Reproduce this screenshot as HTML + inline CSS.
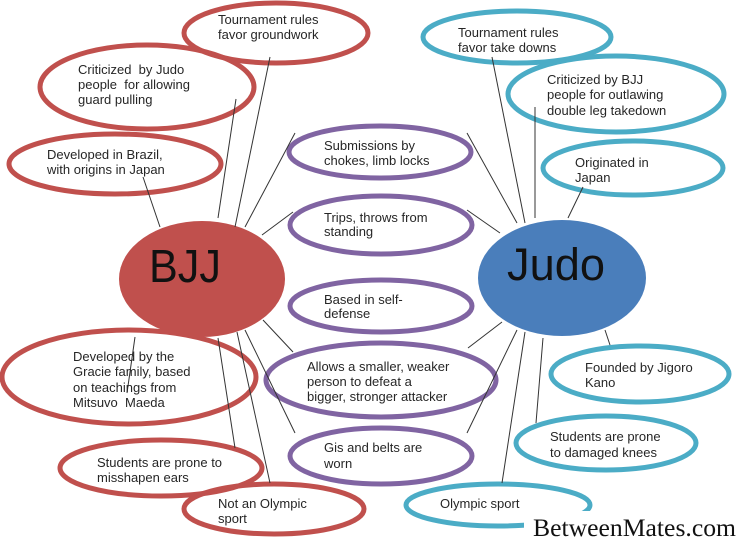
<!DOCTYPE html>
<html><head><meta charset="utf-8"><style>
html,body{margin:0;padding:0;background:#fff;}
svg{display:block;}
text{font-family:"Liberation Sans",Arial,sans-serif;font-size:13px;fill:#262626;white-space:pre;}
</style></head><body>
<svg width="738" height="542" viewBox="0 0 738 542" xmlns="http://www.w3.org/2000/svg">
<rect width="738" height="542" fill="#fff"/>
<!-- main circles -->
<ellipse cx="202" cy="279" rx="83" ry="58" fill="#c0504d"/>
<ellipse cx="562" cy="278" rx="84" ry="58" fill="#4a7ebb"/>
<text x="149" y="282" style="font-size:46px;fill:#111" textLength="72" lengthAdjust="spacingAndGlyphs">BJJ</text>
<text x="507" y="280" style="font-size:45px;fill:#111" textLength="98" lengthAdjust="spacingAndGlyphs">Judo</text>

<!-- red outlines -->
<g fill="none" stroke="#c0504d" stroke-width="5">
<ellipse cx="276" cy="33" rx="92" ry="30"/>
<ellipse cx="147" cy="87" rx="107" ry="42"/>
<ellipse cx="115" cy="164" rx="106" ry="30"/>
<ellipse cx="129" cy="377" rx="127" ry="47"/>
<ellipse cx="161" cy="468" rx="101" ry="28"/>
<ellipse cx="274" cy="509" rx="90" ry="25"/>
</g>
<!-- purple outlines -->
<g fill="none" stroke="#8064a2" stroke-width="5">
<ellipse cx="380" cy="152" rx="91" ry="26"/>
<ellipse cx="381" cy="225" rx="91" ry="29"/>
<ellipse cx="381" cy="306" rx="91" ry="26"/>
<ellipse cx="381" cy="380" rx="115" ry="37"/>
<ellipse cx="381" cy="456" rx="91" ry="28"/>
</g>
<!-- teal outlines -->
<g fill="none" stroke="#4bacc6" stroke-width="5">
<ellipse cx="517" cy="37" rx="94" ry="26"/>
<ellipse cx="616" cy="94" rx="108" ry="38"/>
<ellipse cx="633" cy="168" rx="90" ry="27"/>
<ellipse cx="640" cy="374" rx="89" ry="28"/>
<ellipse cx="606" cy="443" rx="90" ry="27"/>
<ellipse cx="498" cy="505" rx="92" ry="21"/>
</g>

<!-- connectors -->
<g stroke="#333" stroke-width="1" fill="none">
<line x1="270" y1="57" x2="235" y2="227"/>
<line x1="236" y1="99" x2="218" y2="218"/>
<line x1="143" y1="177" x2="160" y2="227"/>
<line x1="295" y1="133" x2="245" y2="227"/>
<line x1="293" y1="212" x2="262" y2="235"/>
<line x1="467" y1="133" x2="517" y2="223"/>
<line x1="492" y1="57" x2="525" y2="223"/>
<line x1="535" y1="107" x2="535" y2="218"/>
<line x1="583" y1="187" x2="568" y2="218"/>
<line x1="467" y1="210" x2="500" y2="233"/>
<line x1="135" y1="337" x2="127" y2="393"/>
<line x1="218" y1="338" x2="235" y2="448"/>
<line x1="237" y1="332" x2="270" y2="483"/>
<line x1="245" y1="330" x2="295" y2="433"/>
<line x1="263" y1="320" x2="293" y2="352"/>
<line x1="502" y1="322" x2="468" y2="348"/>
<line x1="517" y1="330" x2="467" y2="433"/>
<line x1="525" y1="332" x2="502" y2="483"/>
<line x1="543" y1="338" x2="536" y2="423"/>
<line x1="605" y1="330" x2="610" y2="345"/>
</g>

<!-- red texts -->
<text x="218" y="24">Tournament rules</text>
<text x="218" y="39">favor groundwork</text>
<text x="78" y="74">Criticized  by Judo</text>
<text x="78" y="89">people  for allowing</text>
<text x="78" y="104">guard pulling</text>
<text x="47" y="159">Developed in Brazil,</text>
<text x="47" y="174">with origins in Japan</text>
<text x="73" y="361">Developed by the</text>
<text x="73" y="376">Gracie family, based</text>
<text x="73" y="392">on teachings from</text>
<text x="73" y="407">Mitsuvo  Maeda</text>
<text x="97" y="467">Students are prone to</text>
<text x="97" y="482">misshapen ears</text>
<text x="218" y="508">Not an Olympic</text>
<text x="218" y="523">sport</text>

<!-- purple texts -->
<text x="324" y="150">Submissions by</text>
<text x="324" y="165">chokes, limb locks</text>
<text x="324" y="222">Trips, throws from</text>
<text x="324" y="236">standing</text>
<text x="324" y="304">Based in self-</text>
<text x="324" y="318">defense</text>
<text x="307" y="371">Allows a smaller, weaker</text>
<text x="307" y="386">person to defeat a</text>
<text x="307" y="401">bigger, stronger attacker</text>
<text x="324" y="452">Gis and belts are</text>
<text x="324" y="468">worn</text>

<!-- teal texts -->
<text x="458" y="37">Tournament rules</text>
<text x="458" y="52">favor take downs</text>
<text x="547" y="84">Criticized by BJJ</text>
<text x="547" y="99">people for outlawing</text>
<text x="547" y="115">double leg takedown</text>
<text x="575" y="167">Originated in</text>
<text x="575" y="182">Japan</text>
<text x="585" y="372">Founded by Jigoro</text>
<text x="585" y="387">Kano</text>
<text x="550" y="441">Students are prone</text>
<text x="550" y="457">to damaged knees</text>
<text x="440" y="508">Olympic sport</text>

<!-- watermark -->
<rect x="524" y="511" width="214" height="31" fill="#fff"/>
<text x="533" y="536" style="font-family:'Liberation Serif','Times New Roman',serif;font-size:25px;fill:#111" textLength="203" lengthAdjust="spacingAndGlyphs">BetweenMates.com</text>
</svg>
</body></html>
